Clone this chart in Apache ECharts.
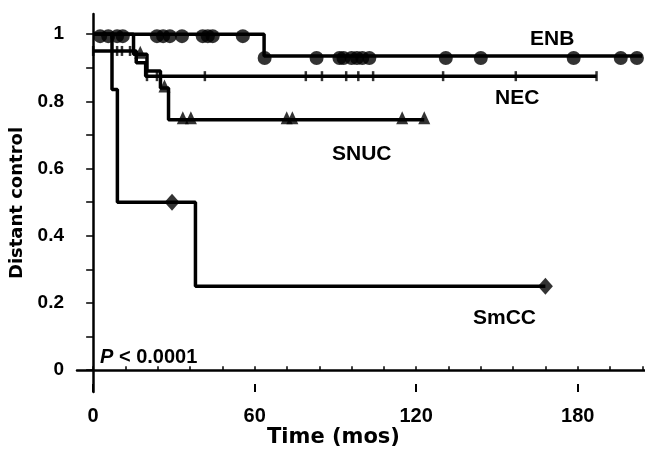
<!DOCTYPE html>
<html>
<head>
<meta charset="utf-8">
<script src="https://cdn.jsdelivr.net/npm/echarts@6/dist/echarts.min.js"></script>
<style>
  html, body { margin: 0; padding: 0; background: #fff; }
  #main { width: 645px; height: 451px; }
</style>
</head>
<body>
<div id="main"></div>
<script>
// Kaplan-Meier steps: [time (months), distant control]
const enbSteps = [[0, 1], [63.5, 0.935], [204, 0.935]];
const necSteps = [[0, 0.95], [16, 0.915], [19.5, 0.875], [187, 0.875]];
const snucSteps = [[0, 1], [15, 0.94], [20, 0.89], [25, 0.84], [28, 0.745], [123, 0.745]];
const smccSteps = [[0, 1], [7, 0.835], [9, 0.5], [38, 0.25], [168, 0.25]];

// censored observations (months)
const enbCensor = [2.6, 5.6, 8.9, 11, 23.7, 26, 28.5, 33, 40.7, 42.6, 44.4, 55.6, 63.7,
  83, 91.5, 93, 96, 98, 100, 102.6, 131, 144, 178.5, 196, 202];
const necCensor = [0, 8.9, 10.7, 13.7, 20, 23.7, 41.5, 79, 85, 94, 98.5, 104, 130, 157, 187];
const snucCensor = [17.5, 26.5, 33.3, 36.3, 71.9, 74, 114.8, 123];
const smccCensor = [29.3, 168];

const xMajorTicks = [0, 60, 120, 180];
const xMinorTicks = [0, 12, 24, 36, 48, 60, 72, 84, 96, 108, 120, 132, 144, 156, 168, 180, 192, 204];
const yLabels = [0, 0.2, 0.4, 0.6, 0.8, 1];
const yTicks = [0, 0.1, 0.2, 0.3, 0.4, 0.5, 0.6, 0.7, 0.8, 0.9, 1];

const FONT = "'Liberation Sans', Arial, sans-serif";
const WIDE = "'DejaVu Sans', sans-serif";

function valueAt(steps, t) {
  let v = steps[0][1];
  for (const s of steps) { if (s[0] <= t) v = s[1]; }
  return v;
}
function censorPts(steps, times) {
  return times.map(t => [t, valueAt(steps, t)]);
}

function stepLine(name, steps) {
  return {
    name: name, type: 'line', step: 'end', data: steps,
    showSymbol: false, silent: true,
    lineStyle: { color: '#000', width: 3.5 }, z: 2
  };
}
function marks(name, steps, times, symbol, size, offset) {
  return {
    name: name + ' censored', type: 'scatter', data: censorPts(steps, times),
    symbol: symbol, symbolSize: size, symbolOffset: offset || [0, 0], silent: true,
    itemStyle: { color: '#000' }, z: 3
  };
}

const chart = echarts.init(document.getElementById('main'));

chart.setOption({
  animation: false,
  backgroundColor: '#fff',
  grid: { left: 77, right: 0, top: 14, bottom: 59 },
  xAxis: [
    {
      type: 'value', min: -6, max: 205,
      axisLine: { lineStyle: { color: '#000', width: 2.5 } },
      axisTick: { show: true, inside: true, length: 4, customValues: xMinorTicks, lineStyle: { color: '#000', width: 1.5 } },
      axisLabel: { customValues: xMajorTicks, color: '#000', fontFamily: FONT, fontWeight: 'bold', fontSize: 20, margin: 14 },
      splitLine: { show: false }
    },
    {
      type: 'value', min: -6, max: 205, position: 'bottom',
      axisLine: { show: false },
      axisTick: { show: true, inside: true, length: 8, customValues: xMajorTicks, lineStyle: { color: '#000', width: 2 } },
      axisLabel: { show: false },
      splitLine: { show: false }
    }
  ],
  yAxis: {
    type: 'value', min: -0.065, max: 1.06,
    name: 'Distant control', nameLocation: 'middle', nameGap: 44,
    nameTextStyle: { color: '#000', fontFamily: WIDE, fontWeight: 'bold', fontSize: 18 },
    axisLine: { show: true, lineStyle: { color: '#000', width: 2.5 } },
    axisTick: { show: true, length: 7, customValues: yTicks, lineStyle: { color: '#000', width: 1.5 } },
    axisLabel: {
      customValues: yLabels, color: '#000', fontFamily: FONT, fontWeight: 'bold', fontSize: 19, margin: 13,
      formatter: v => (v === 0 ? '0' : v === 1 ? '1' : v.toFixed(1))
    },
    splitLine: { show: false }
  },
  series: [
    stepLine('ENB', enbSteps),
    stepLine('NEC', necSteps),
    stepLine('SNUC', snucSteps),
    stepLine('SmCC', smccSteps),
    marks('ENB', enbSteps, enbCensor, 'circle', 14, [0, 2]),
    marks('NEC', necSteps, necCensor, 'rect', [2.5, 10]),
    marks('SNUC', snucSteps, snucCensor, 'triangle', [12, 13], [0, -2]),
    marks('SmCC', smccSteps, smccCensor, 'diamond', [15, 17])
  ],
  graphic: [
    { type: 'text', left: 530, top: 29, style: { text: 'ENB', fill: '#000', font: "bold 21px " + FONT } },
    { type: 'text', left: 495, top: 88, style: { text: 'NEC', fill: '#000', font: "bold 21px " + FONT } },
    { type: 'text', left: 332, top: 144, style: { text: 'SNUC', fill: '#000', font: "bold 21px " + FONT } },
    { type: 'text', left: 473, top: 308, style: { text: 'SmCC', fill: '#000', font: "bold 21px " + FONT } },
    {
      type: 'text', left: 100, top: 347,
      style: {
        text: '{p|P}{r| < 0.0001}',
        rich: {
          p: { fill: '#000', font: "italic bold 20px " + FONT },
          r: { fill: '#000', font: "bold 20px " + FONT }
        }
      }
    },
    { type: 'text', left: 267, top: 427, style: { text: 'Time (mos)', fill: '#000', font: "bold 21px " + WIDE } }
  ]
});
</script>
</body>
</html>
